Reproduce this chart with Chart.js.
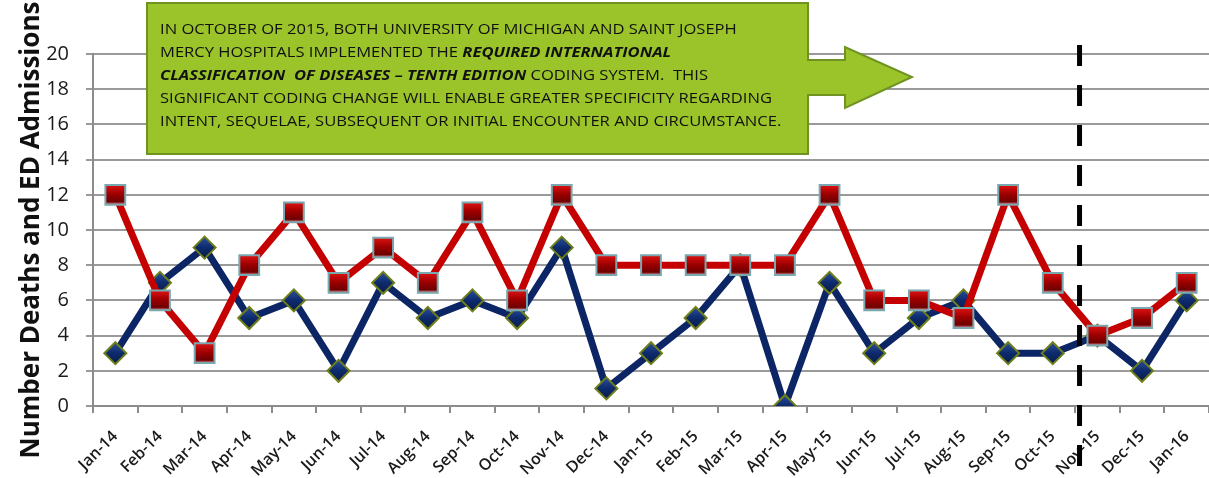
<!DOCTYPE html>
<html>
<head>
<meta charset="utf-8">
<script src="https://cdn.jsdelivr.net/npm/chart.js@4"></script>
<style>
html, body { margin: 0; padding: 0; background: #fff; }
#wrap { width: 1209px; height: 478px; position: relative; }
</style>
</head>
<body>
<div id="wrap"><canvas id="deathsChart"></canvas></div>
<script>
const months = ["Jan-14","Feb-14","Mar-14","Apr-14","May-14","Jun-14","Jul-14","Aug-14","Sep-14","Oct-14","Nov-14","Dec-14",
  "Jan-15","Feb-15","Mar-15","Apr-15","May-15","Jun-15","Jul-15","Aug-15","Sep-15","Oct-15","Nov-15","Dec-15","Jan-16"];
const redSeries = [12,6,3,8,11,7,9,7,11,6,12,8,8,8,8,8,12,6,6,5,12,7,4,5,7];
const blueSeries = [3,7,9,5,6,2,7,5,6,5,9,1,3,5,8,0,7,3,5,6,3,3,4,2,6];
const yMin = 0, yMax = 20, yStep = 2;
// ICD-10 switch, drawn between Oct-15 and Nov-15
const switchIndex = 21.6;

const noteLines = [
  [["IN OCTOBER OF 2015, BOTH UNIVERSITY OF MICHIGAN AND SAINT JOSEPH", false]],
  [["MERCY HOSPITALS IMPLEMENTED THE ", false], ["REQUIRED INTERNATIONAL", true]],
  [["CLASSIFICATION  OF DISEASES \u2013 TENTH EDITION", true], [" CODING SYSTEM.  THIS", false]],
  [["SIGNIFICANT CODING CHANGE WILL ENABLE GREATER SPECIFICITY REGARDING", false]],
  [["INTENT, SEQUELAE, SUBSEQUENT OR INITIAL ENCOUNTER AND CIRCUMSTANCE.", false]]
];

// vertical gradient for a marker, falls back to a flat colour
function markerFill(stops, flat, r) {
  return function(c) {
    const chart = c.chart;
    if (!chart.scales.y || c.parsed == null) return flat;
    const py = chart.scales.y.getPixelForValue(c.parsed.y);
    if (!isFinite(py)) return flat;
    const g = chart.ctx.createLinearGradient(0, py - r, 0, py + r);
    stops.forEach(([p, col]) => g.addColorStop(p, col));
    return g;
  };
}

const calloutPlugin = {
  id: 'callout',
  afterDraw(chart) {
    const ctx = chart.ctx;
    const xs = chart.scales.x;

    // dashed divider
    const a = xs.getPixelForValue(Math.floor(switchIndex));
    const b = xs.getPixelForValue(Math.ceil(switchIndex));
    const dx = a + (b - a) * (switchIndex - Math.floor(switchIndex));
    ctx.save();
    ctx.strokeStyle = '#000';
    ctx.lineWidth = 5;
    ctx.setLineDash([21, 19]);
    ctx.beginPath();
    ctx.moveTo(dx, chart.chartArea.top - 9);
    ctx.lineTo(dx, chart.height);
    ctx.stroke();
    ctx.restore();

    // green arrow callout
    ctx.save();
    ctx.beginPath();
    ctx.moveTo(147, 3); ctx.lineTo(808, 3); ctx.lineTo(808, 60);
    ctx.lineTo(845, 60); ctx.lineTo(845, 47); ctx.lineTo(912, 77);
    ctx.lineTo(845, 108); ctx.lineTo(845, 95); ctx.lineTo(808, 95);
    ctx.lineTo(808, 154); ctx.lineTo(147, 154); ctx.closePath();
    ctx.fillStyle = '#9AC42A';
    ctx.fill();
    ctx.lineWidth = 2;
    ctx.strokeStyle = '#6E9320';
    ctx.stroke();

    const normal = '15px "Open Sans"';
    const strong = 'italic bold 15px "Open Sans"';
    ctx.font = normal;
    const sx = 612 / ctx.measureText(noteLines[3][0][0]).width;
    ctx.fillStyle = '#111';
    ctx.textBaseline = 'middle';
    noteLines.forEach((line, i) => {
      let x = 0;
      const y = 30 + i * 23;
      ctx.save();
      ctx.translate(160, y);
      ctx.scale(sx, 1);
      line.forEach(([txt, bold]) => {
        ctx.font = bold ? strong : normal;
        ctx.fillText(txt, x, 0);
        x += ctx.measureText(txt).width;
      });
      ctx.restore();
    });
    ctx.restore();
  }
};

const ctx = document.getElementById("deathsChart").getContext("2d");
new Chart(ctx, {
  type: 'line',
  data: {
    labels: months,
    datasets: [
      {
        data: redSeries,
        borderColor: '#C40000',
        borderWidth: 7,
        pointStyle: 'rect',
        pointRadius: 14,
        pointHoverRadius: 14,
        pointBackgroundColor: markerFill([[0, '#E01212'], [0.45, '#9E0000'], [0.85, '#6E0000'], [1, '#E8A0A8']], '#A00000', 10),
        pointBorderColor: '#78A8B0',
        pointBorderWidth: 2,
        tension: 0
      },
      {
        data: blueSeries,
        borderColor: '#0B2565',
        borderWidth: 7,
        pointStyle: 'rectRot',
        pointRadius: 11,
        pointHoverRadius: 11,
        pointBackgroundColor: markerFill([[0, '#2A4FA0'], [0.5, '#0D2A6C'], [1, '#081C4C']], '#0E2C70', 11),
        pointBorderColor: '#6E7E18',
        pointBorderWidth: 2,
        tension: 0
      }
    ]
  },
  options: {
    responsive: true,
    maintainAspectRatio: false,
    animation: false,
    layout: { autoPadding: false, padding: { top: 54, right: 0, left: 0, bottom: 0 } },
    plugins: {
      legend: { display: false },
      tooltip: { enabled: false }
    },
    scales: {
      x: {
        offset: true,
        grid: { offset: true, drawOnChartArea: false, tickLength: 7, color: '#8c8c8c', lineWidth: 2 },
        border: { color: '#8c8c8c', width: 2 },
        ticks: {
          maxRotation: 45, minRotation: 45, autoSkip: false, padding: 14,
          color: '#1a1a1a', font: { family: 'Open Sans', size: 16, weight: 600 }
        },
        afterFit(scale) {
          scale.height = 72;
          scale.paddingLeft = 0;
          scale.paddingRight = 0;
        }
      },
      y: {
        min: yMin, max: yMax,
        grid: { color: '#9a9a9a', lineWidth: 2, tickLength: 7 },
        border: { color: '#8c8c8c', width: 2 },
        ticks: { stepSize: yStep, padding: 17, color: '#1a1a1a', font: { family: 'Open Sans', size: 20 } },
        title: {
          display: true,
          text: 'Number Deaths and ED Admissions',
          color: '#111',
          padding: { top: 16, bottom: 0 },
          font: { family: 'Open Sans', size: 26, weight: 'bold' }
        },
        afterFit(scale) { scale.width = 93; }
      }
    }
  },
  plugins: [calloutPlugin]
});
</script>
</body>
</html>
